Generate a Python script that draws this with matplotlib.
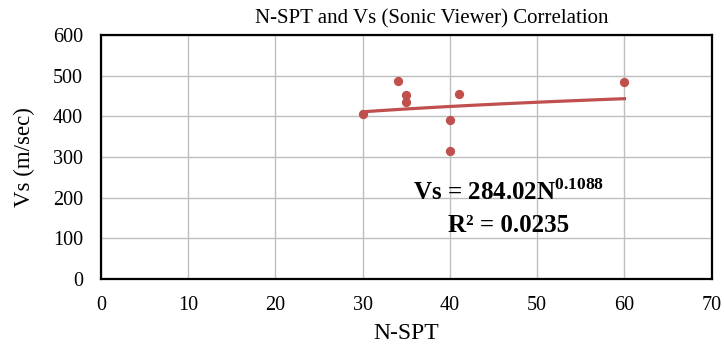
import numpy as np
import matplotlib
matplotlib.use('Agg')
import matplotlib.pyplot as plt

plt.rcParams['font.family'] = ['Liberation Serif', 'DejaVu Serif']
plt.rcParams['mathtext.fontset'] = 'custom'
plt.rcParams['mathtext.rm'] = 'Liberation Serif'
plt.rcParams['mathtext.bf'] = 'Liberation Serif:bold'

# data
n_spt = [30, 34, 35, 35, 40, 40, 41, 60]
vs = [407, 487, 452, 435, 392, 314, 456, 485]

# power trendline shown on the chart
coef_a = 284.02
coef_b = 0.1088
r2 = 0.0235

color = '#C0504D'

fig = plt.figure(figsize=(7.24, 3.45), dpi=100)
ax = fig.add_axes([0.1395, 0.191, 0.8435, 0.7076])

ax.scatter(n_spt, vs, s=32, color=color, zorder=3)
xf = np.linspace(min(n_spt), max(n_spt), 100)
ax.plot(xf, coef_a * xf ** coef_b, color=color, linewidth=2.3, zorder=2)

ax.set_xlim(0, 70)
ax.set_ylim(0, 600)
ax.set_xticks(range(0, 71, 10))
ax.set_yticks(range(0, 601, 100))
ax.grid(True, color='#bfbfbf', linewidth=1)
ax.set_axisbelow(True)
for sp in ax.spines.values():
    sp.set_color('black')
    sp.set_linewidth(1.6)
ax.tick_params(length=0, labelsize=14.5)
ax.tick_params(axis='y', pad=13)
ax.tick_params(axis='x', pad=12)

fig.text(0.597, 0.945, 'N-SPT and Vs (Sonic Viewer) Correlation', fontsize=15,
         ha='center', va='center')
ax.set_xlabel('N-SPT', fontsize=17, labelpad=6)
ax.set_ylabel('Vs (m/sec)', fontsize=16.5, labelpad=13)

ax.text(0.668, 0.357, r'Vs = 284.02N$^{\mathbf{0.1088}}$', transform=ax.transAxes,
        fontsize=18, fontweight='bold', ha='center', va='center')
ax.text(0.668, 0.221, 'R² = %.4f' % r2, transform=ax.transAxes,
        fontsize=18, fontweight='bold', ha='center', va='center')

fig.savefig('out.png', dpi=100)
